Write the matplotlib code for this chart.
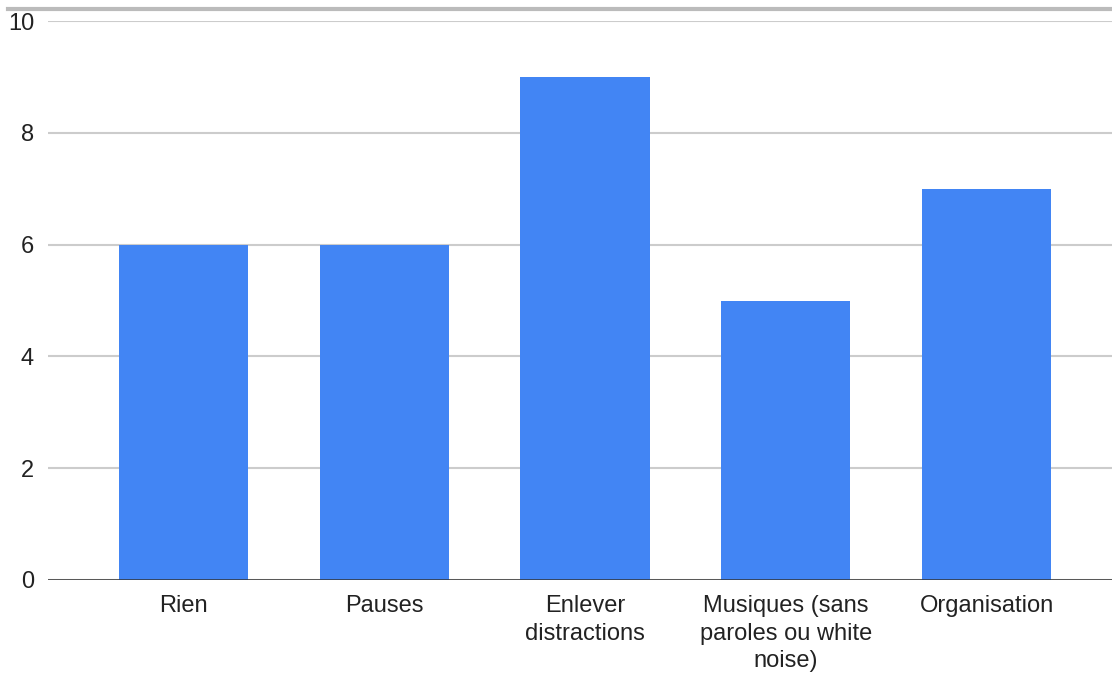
import matplotlib
matplotlib.use("Agg")
import matplotlib.pyplot as plt
from matplotlib.lines import Line2D

categories = ["Rien", "Pauses", "Enlever\ndistractions",
              "Musiques (sans\nparoles ou white\nnoise)", "Organisation"]
values = [6, 6, 9, 5, 7]
yticks = [0, 2, 4, 6, 8, 10]

plt.rcParams["font.family"] = ["Liberation Sans", "DejaVu Sans"]

fig = plt.figure(figsize=(11.12, 6.75), dpi=100)
ax = fig.add_axes([48 / 1112, 1 - 580 / 675, 1 - 48 / 1112, (580 - 21) / 675])

x = list(range(len(categories)))
ax.bar(x, values, width=0.643, color="#4285F4", zorder=3)

ax.set_xlim(-0.675, 4.625)
ax.set_ylim(0, 10)
ax.set_yticks(yticks)
ax.set_yticklabels([str(v) for v in yticks])
ax.set_xticks(x)
ax.set_xticklabels(categories, linespacing=1.32)

ax.grid(axis="y", color="#cccccc", linewidth=1.5, zorder=0)
ax.axhline(0, color="#333333", linewidth=1.8, zorder=4)
for s in ax.spines.values():
    s.set_visible(False)
ax.tick_params(axis="both", length=0, labelsize=17, colors="#222222")
ax.tick_params(axis="y", pad=10)
ax.tick_params(axis="x", pad=11)

# thin gray band along the top edge
fig.add_artist(Line2D([8 / 1112, 1], [1 - 9 / 675, 1 - 9 / 675],
                      transform=fig.transFigure, color="#bbbbbb", linewidth=3))

fig.savefig("out.png", dpi=100)
